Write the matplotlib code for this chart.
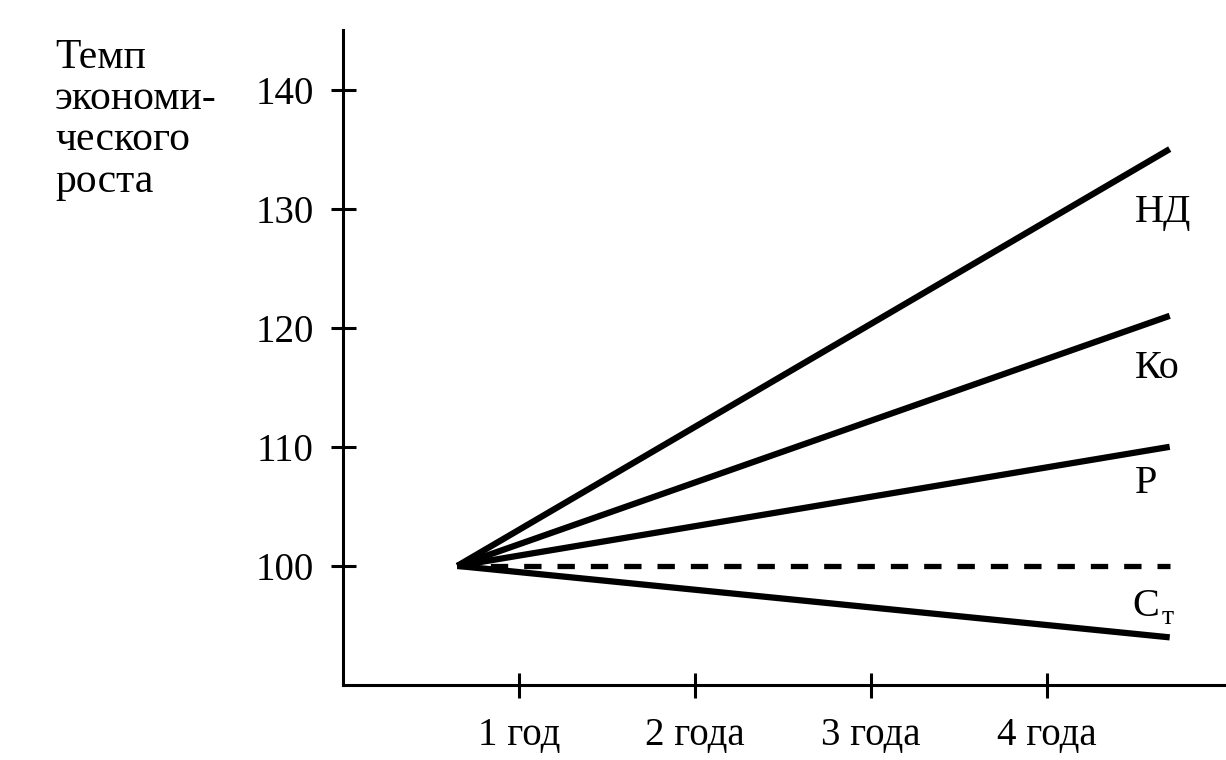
import matplotlib
matplotlib.use("Agg")
import matplotlib.pyplot as plt

plt.rcParams['font.family'] = ['Liberation Serif', 'DejaVu Serif']
plt.rcParams['lines.scale_dashes'] = False

# данные
x_start = 0.65
x_end = 4.70
start_val = 100
series_names = ["НД", "Ко", "Р", "Ст"]
end_vals = [135, 121, 110, 94]
base_val = 100
xticks = [1, 2, 3, 4]
xlabels = ["1 год", "2 года", "3 года", "4 года"]
yticks = [100, 110, 120, 130, 140]

fig = plt.figure(figsize=(12.26, 7.6), dpi=100)
ax = fig.add_axes([343/1226, 75/760, 883/1226, 655/760])

for v in end_vals:
    ax.plot([x_start, x_end], [start_val, v], color='black', lw=4.5,
            solid_capstyle='butt')
ax.plot([x_start, x_end], [base_val, base_val], color='black', lw=3.8,
        dashes=(12.5, 11.5))

ax.set_xlim(0, 5.02)
ax.set_ylim(90, 145)
ax.set_xticks(xticks)
ax.set_xticklabels(xlabels)
ax.set_yticks(yticks)
ax.tick_params(direction='inout', length=18, width=2.2, labelsize=28, pad=12)
ax.tick_params(axis='x', pad=14)
for s in ['top', 'right']:
    ax.spines[s].set_visible(False)
for s in ['left', 'bottom']:
    ax.spines[s].set_linewidth(2.2)

# подписи линий
lab_y = [129.7, 116.6, 106.9, 96.6]
for name, v, yy in zip(series_names, end_vals, lab_y):
    if name == "Ст":
        ax.text(4.49, yy, "С", fontsize=29, ha='left', va='center')
        ax.text(4.655, yy - 0.9, "т", fontsize=20, ha='left', va='center')
    else:
        ax.text(4.50, yy, name, fontsize=29, ha='left', va='center')

fig.text(55/1226, 1 - 38/760, "Темп\nэкономи-\nческого\nроста",
         fontsize=30, ha='left', va='top', linespacing=1.1)

fig.savefig("out.png", dpi=100)
